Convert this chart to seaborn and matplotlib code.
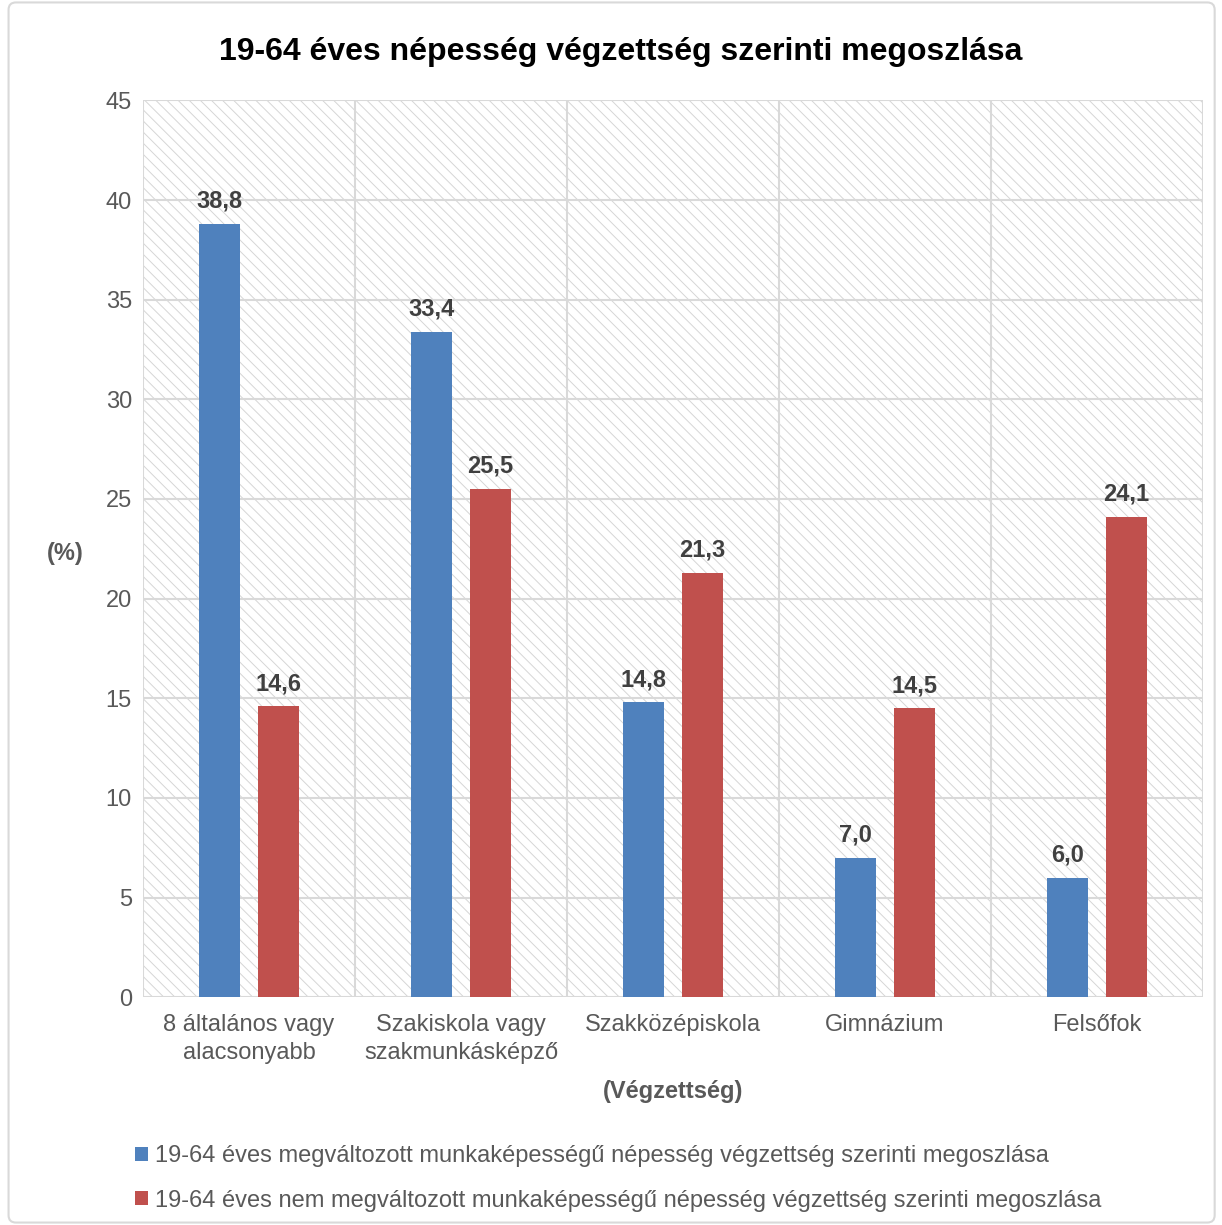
import matplotlib
matplotlib.use("Agg")
import matplotlib.pyplot as plt
from matplotlib.patches import Rectangle, FancyBboxPatch
import seaborn as sns
import pandas as pd

CATEGORIES = ["8 általános vagy\nalacsonyabb", "Szakiskola vagy\nszakmunkásképző",
              "Szakközépiskola", "Gimnázium", "Felsőfok"]
SERIES = ["19-64 éves megváltozott munkaképességű népesség végzettség szerinti megoszlása",
          "19-64 éves nem megváltozott munkaképességű népesség végzettség szerinti megoszlása"]
CHANGED = [38.8, 33.4, 14.8, 7.0, 6.0]
NOT_CHANGED = [14.6, 25.5, 21.3, 14.5, 24.1]
Y_TICKS = [0, 5, 10, 15, 20, 25, 30, 35, 40, 45]

COLORS = ["#4f81bd", "#c0504d"]
GRID = "#d9d9d9"
TEXT = "#595959"


def build_frame():
    ''' long table for seaborn: one row per bar '''
    rows = []
    for cat, a, b in zip(CATEGORIES, CHANGED, NOT_CHANGED):
        rows.append({"cat": cat, "series": SERIES[0], "value": a})
        rows.append({"cat": cat, "series": SERIES[1], "value": b})
    return pd.DataFrame(rows)


def main():
    sns.set_style("white")
    plt.rcParams["font.family"] = ["Liberation Sans", "DejaVu Sans"]
    plt.rcParams["hatch.linewidth"] = 0.7
    plt.rcParams["hatch.color"] = "#d6d6d6"

    df = build_frame()
    fig = plt.figure(figsize=(12.22, 12.25), dpi=100)
    ax = fig.add_axes([0.117, 0.186, 0.8675, 0.732])

    # hatched plot area
    ax.add_patch(Rectangle((0, 0), 1, 1, transform=ax.transAxes, facecolor="white",
                           edgecolor="#d6d6d6", hatch="\\" * 3, lw=0, zorder=0))

    sns.barplot(data=df, x="cat", y="value", hue="series", palette=COLORS,
                width=0.557, gap=0.31, ax=ax, zorder=3, saturation=1, linewidth=0)

    ax.set_ylim(0, 45)
    ax.set_xlim(-0.5, len(CATEGORIES) - 0.5)
    ax.set_yticks(Y_TICKS)
    ax.set_yticklabels([str(t) for t in Y_TICKS])
    for y in Y_TICKS:
        ax.axhline(y, color=GRID, lw=1.5, zorder=1)
    for i in range(len(CATEGORIES) + 1):
        ax.axvline(i - 0.5, color=GRID, lw=1.5, zorder=1)
    for s in ax.spines.values():
        s.set_visible(False)
    ax.tick_params(axis="both", length=0, labelsize=17, colors=TEXT, pad=8)
    ax.tick_params(axis="x", pad=12)
    for lbl in ax.get_xticklabels():
        lbl.set_linespacing(1.35)

    for cont, vals in zip(ax.containers, [CHANGED, NOT_CHANGED]):
        ax.bar_label(cont, labels=[f"{v:.1f}".replace(".", ",") for v in vals],
                     padding=8, fontsize=17, fontweight="bold", color="#404040")

    ax.set_xlabel("(Végzettség)", fontsize=17, fontweight="bold", color=TEXT, labelpad=12)
    ax.set_ylabel("(%)", fontsize=17, fontweight="bold", color=TEXT, rotation=0,
                  va="center", labelpad=0)
    ax.yaxis.set_label_coords(-0.073, 0.495)

    fig.suptitle("19-64 éves népesség végzettség szerinti megoszlása", x=0.508, y=0.97,
                 fontsize=23, fontweight="bold", color="black")

    handles, labels = ax.get_legend_handles_labels()
    ax.get_legend().remove()
    fig.legend(handles, labels, loc="center left", bbox_to_anchor=(0.1005, 0.038),
               frameon=False, fontsize=17, labelcolor=TEXT, handlelength=0.55,
               handleheight=0.55, handletextpad=0.3, labelspacing=0.95, borderpad=0)

    # outer chart frame
    fig.patches.append(FancyBboxPatch((0.007, 0.002), 0.987, 0.996,
                                      boxstyle="round,pad=0,rounding_size=0.006",
                                      transform=fig.transFigure, facecolor="none",
                                      edgecolor=GRID, lw=1.5))
    fig.savefig("out.png", dpi=100)


if __name__ == "__main__":
    main()
